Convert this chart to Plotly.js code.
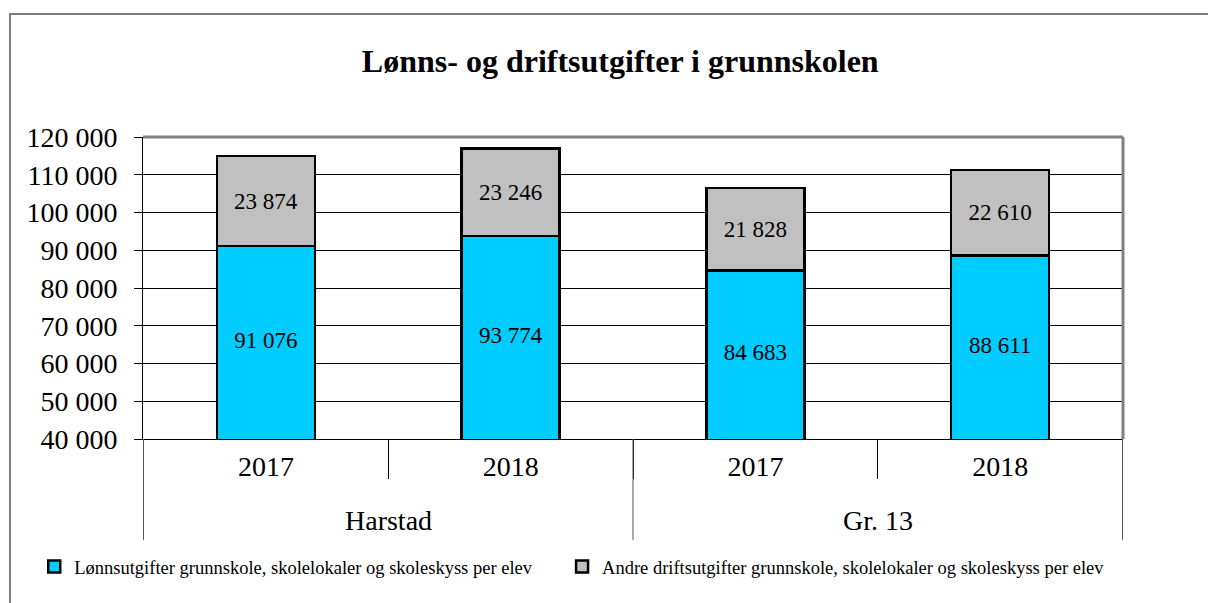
<!DOCTYPE html>
<html>
<head>
<meta charset="utf-8">
<script src="https://cdn.plot.ly/plotly-3.0.1.min.js"></script>
<style>
html,body{margin:0;padding:0;background:#fff;overflow:hidden;}
#frame{position:absolute;left:9px;top:13px;width:1300px;height:700px;border-top:2px solid #7f7f7f;border-left:2px solid #7f7f7f;}
#chart{position:absolute;left:0;top:0;width:1208px;height:603px;}
</style>
</head>
<body>
<div id="frame"></div>
<div id="chart"></div>
<script>
const groups = ["Harstad", "Harstad", "Gr. 13", "Gr. 13"];
const years = ["2017", "2018", "2017", "2018"];
const lonn = [91076, 93774, 84683, 88611];
const andre = [23874, 23246, 21828, 22610];
const seriesNames = [
  "Lønnsutgifter grunnskole, skolelokaler og skoleskyss per elev",
  "Andre driftsutgifter grunnskole, skolelokaler og skoleskyss per elev"
];
const yTicks = [40000, 50000, 60000, 70000, 80000, 90000, 100000, 110000, 120000];
const yRange = [40000, 120000];

function fmt(v){ return String(v).replace(/\B(?=(\d{3})+(?!\d))/g, "\u00a0"); }

const font = "Liberation Serif, Times New Roman, serif";
const keys = groups.map((g, i) => g + " " + years[i]);

// group spans (for centred group labels and dividers)
const groupNames = [...new Set(groups)];
const groupSpans = groupNames.map(g => {
  const idx = groups.map((x, i) => x === g ? i : -1).filter(i => i >= 0);
  return {name: g, first: Math.min(...idx), last: Math.max(...idx)};
});

const traces = [
  {
    type: "bar", name: seriesNames[0], legend: "legend",
    x: keys, y: lonn,
    marker: {color: "#00CCFF", line: {color: "#000", width: 2.5}},
    textposition: "none", hoverinfo: "skip"
  },
  {
    type: "bar", name: seriesNames[1], legend: "legend2",
    x: keys, y: andre,
    marker: {color: "#C0C0C0", line: {color: "#000", width: 2.5}},
    text: andre.map(fmt), textposition: "inside", insidetextanchor: "middle",
    textfont: {family: font, size: 23, color: "#000"},
    constraintext: "none", hoverinfo: "skip"
  },
  {
    type: "scatter", mode: "text", showlegend: false, hoverinfo: "skip",
    x: keys,
    y: lonn.map(v => (yRange[0] + v) / 2),
    text: lonn.map(fmt),
    textfont: {family: font, size: 23, color: "#000"},
    cliponaxis: false
  }
];

const dividerBottom = -0.334;
const shapes = [
  {type: "line", xref: "paper", yref: "paper", x0: 0, x1: 1, y0: 1, y1: 1, line: {color: "#808080", width: 3}, layer: "above"},
  {type: "line", xref: "paper", yref: "paper", x0: 1, x1: 1, y0: 0, y1: 1, line: {color: "#808080", width: 3}, layer: "above"}
];
const annotations = [];
groupSpans.forEach((s, k) => {
  if (k === 0) {
    shapes.push({type: "line", xref: "x", yref: "paper", x0: s.first - 0.5, x1: s.first - 0.5, y0: 0, y1: dividerBottom, line: {color: "#555", width: 1}});
  }
  shapes.push({type: "line", xref: "x", yref: "paper", x0: s.last + 0.5, x1: s.last + 0.5, y0: 0, y1: dividerBottom, line: {color: "#555", width: 1}});
  annotations.push({
    xref: "x", yref: "paper", x: (s.first + s.last) / 2, y: -0.2715,
    xanchor: "center", yanchor: "middle", showarrow: false,
    text: s.name, font: {family: font, size: 28, color: "#000"}
  });
});

const layout = {
  width: 1208, height: 603,
  paper_bgcolor: "rgba(0,0,0,0)", plot_bgcolor: "rgba(0,0,0,0)",
  margin: {l: 143, r: 85, t: 137, b: 164},
  barmode: "stack", bargap: 0.6,
  font: {family: font, color: "#000"},
  title: {
    text: "<b>Lønns- og driftsutgifter i grunnskolen</b>",
    font: {family: font, size: 32, color: "#000"},
    xref: "paper", x: 0.487, xanchor: "center",
    yref: "container", y: 0.9, yanchor: "middle"
  },
  xaxis: {
    type: "category",
    tickvals: keys, ticktext: years,
    showline: true, linecolor: "#000", linewidth: 1,
    ticks: "outside", tickson: "boundaries", ticklen: 39, tickcolor: "#000", tickwidth: 1,
    ticklabelstandoff: 2,
    tickfont: {family: font, size: 28, color: "#000"},
    showgrid: false, zeroline: false
  },
  yaxis: {
    range: yRange,
    tickvals: yTicks, ticktext: yTicks.map(fmt),
    tickfont: {family: font, size: 28, color: "#000"},
    ticks: "outside", ticklen: 8, tickcolor: "#000", tickwidth: 1,
    ticklabelstandoff: 11,
    showgrid: true, gridcolor: "#000", gridwidth: 1,
    showline: true, linecolor: "#000", linewidth: 1,
    zeroline: false
  },
  legend: {
    orientation: "h", x: -0.111, xanchor: "left",
    y: -0.424, yanchor: "middle",
    font: {family: font, size: 18.5, color: "#000"},
    itemwidth: 30, bgcolor: "rgba(0,0,0,0)"
  },
  legend2: {
    orientation: "h", x: 0.4276, xanchor: "left",
    y: -0.424, yanchor: "middle",
    font: {family: font, size: 18.5, color: "#000"},
    itemwidth: 30, bgcolor: "rgba(0,0,0,0)"
  },
  shapes: shapes,
  annotations: annotations
};

Plotly.newPlot("chart", traces, layout, {staticPlot: true, displayModeBar: false});
</script>
</body>
</html>
